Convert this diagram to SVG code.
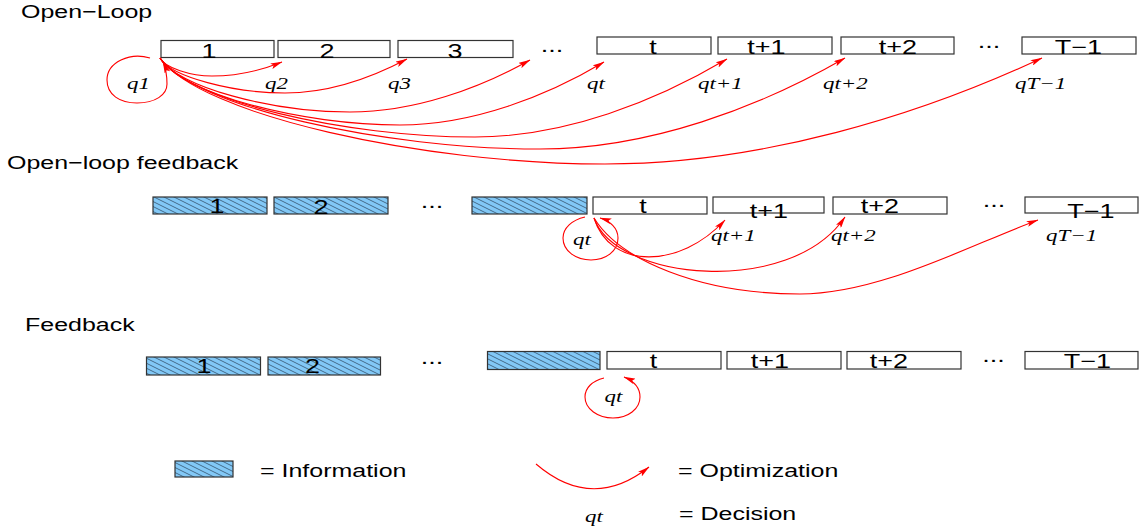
<svg xmlns="http://www.w3.org/2000/svg" width="1146" height="532" viewBox="0 0 1146 532">
<defs>
<style>
.box{fill:#fff;stroke:#333;stroke-width:1.2}
.info{fill:url(#hatch);stroke:#333;stroke-width:1.2}
.lbl{font-family:"Liberation Sans",Arial,sans-serif;font-size:20px;text-anchor:middle;fill:#000}
.ttl{font-family:"Liberation Sans",Arial,sans-serif;font-size:18.5px;fill:#000}
.q{font-family:"Liberation Serif","Times New Roman",serif;font-style:italic;font-size:17px;fill:#000}
.arc{fill:none;stroke:#f00;stroke-width:1.1;marker-end:url(#ah)}
.loop{fill:none;stroke:#f00;stroke-width:1.1;marker-end:url(#ah)}
</style>
<pattern id="hatch" patternUnits="userSpaceOnUse" width="10" height="5">
<rect width="10" height="5" fill="#82c8f6"/>
<path d="M-1 -0.5 L11 5.5 M-1 4.5 L1 5.5 M9 -0.5 L11 0.5" stroke="#2a4058" stroke-width="0.7"/>
</pattern>
<marker id="ah" viewBox="0 0 12 6" refX="11.5" refY="3" markerWidth="12" markerHeight="6" markerUnits="userSpaceOnUse" orient="auto">
<path d="M0 0 L12 3 L0 6 L2.5 3 Z" fill="#f00"/>
</marker>
</defs>
<rect width="1146" height="532" fill="#fff"/>

<!-- Titles -->
<g id="titles">
<text class="ttl" transform="translate(21 18) scale(1.35 1)">Open−Loop</text>
<text class="ttl" transform="translate(7 168.5) scale(1.35 1)">Open−loop feedback</text>
<text class="ttl" transform="translate(25 331) scale(1.35 1)">Feedback</text>
</g>

<!-- Row 1: Open-Loop -->
<g id="ol-1"><rect class="box" x="161" y="40.5" width="113" height="17"/><text class="lbl" transform="translate(209 57.5) scale(1.35 1)">1</text></g>
<g id="ol-2"><rect class="box" x="278" y="40.5" width="112" height="17"/><text class="lbl" transform="translate(327 57.5) scale(1.35 1)">2</text></g>
<g id="ol-3"><rect class="box" x="398" y="40.5" width="115" height="17"/><text class="lbl" transform="translate(455 57.5) scale(1.35 1)">3</text></g>
<g id="ol-dots1"><text class="lbl" transform="translate(552 52) scale(1.35 1)">...</text></g>
<g id="ol-t"><rect class="box" x="597" y="37" width="114" height="17"/><text class="lbl" transform="translate(653 54) scale(1.35 1)">t</text></g>
<g id="ol-t1"><rect class="box" x="718" y="37" width="114" height="17"/><text class="lbl" transform="translate(766.5 54) scale(1.35 1)">t+1</text></g>
<g id="ol-t2"><rect class="box" x="841" y="37" width="113" height="17"/><text class="lbl" transform="translate(898 54) scale(1.35 1)">t+2</text></g>
<g id="ol-dots2"><text class="lbl" transform="translate(989 48) scale(1.35 1)">...</text></g>
<g id="ol-T1"><rect class="box" x="1022" y="37" width="114" height="17"/><text class="lbl" transform="translate(1078.5 54) scale(1.35 1)">T−1</text></g>
<g id="ol-q">
<text class="q" transform="translate(127 89) scale(1.35 1)">q1</text>
<text class="q" transform="translate(265 89) scale(1.35 1)">q2</text>
<text class="q" transform="translate(388 89) scale(1.35 1)">q3</text>
<text class="q" transform="translate(587 89) scale(1.35 1)">qt</text>
<text class="q" transform="translate(698 89) scale(1.35 1)">qt+1</text>
<text class="q" transform="translate(823 89) scale(1.35 1)">qt+2</text>
<text class="q" transform="translate(1015 89) scale(1.35 1)">qT−1</text>
</g>

<!-- Row 2: Open-loop feedback -->
<g id="olf-1"><rect class="info" x="153" y="197" width="114" height="17"/><text class="lbl" transform="translate(217 213) scale(1.35 1)">1</text></g>
<g id="olf-2"><rect class="info" x="274" y="197" width="114" height="17"/><text class="lbl" transform="translate(321 214) scale(1.35 1)">2</text></g>
<g id="olf-dots1"><text class="lbl" transform="translate(432 208) scale(1.35 1)">...</text></g>
<g id="olf-3"><rect class="info" x="472" y="197" width="115" height="17"/></g>
<g id="olf-t"><rect class="box" x="593" y="197" width="114" height="17"/><text class="lbl" transform="translate(643 213) scale(1.35 1)">t</text></g>
<g id="olf-t1"><rect class="box" x="713" y="197" width="111" height="16"/><text class="lbl" transform="translate(769 217.5) scale(1.35 1)">t+1</text></g>
<g id="olf-t2"><rect class="box" x="833" y="197" width="114" height="17"/><text class="lbl" transform="translate(880 213) scale(1.35 1)">t+2</text></g>
<g id="olf-dots2"><text class="lbl" transform="translate(994 207) scale(1.35 1)">...</text></g>
<g id="olf-T1"><rect class="box" x="1025" y="197" width="113" height="16"/><text class="lbl" transform="translate(1091 218) scale(1.35 1)">T−1</text></g>
<g id="olf-q">
<text class="q" transform="translate(573 245) scale(1.35 1)">qt</text>
<text class="q" transform="translate(711 241) scale(1.35 1)">qt+1</text>
<text class="q" transform="translate(831 241) scale(1.35 1)">qt+2</text>
<text class="q" transform="translate(1046 241) scale(1.35 1)">qT−1</text>
</g>

<!-- Row 3: Feedback -->
<g id="fb-1"><rect class="info" x="146.5" y="357" width="114" height="18"/><text class="lbl" transform="translate(204 373) scale(1.35 1)">1</text></g>
<g id="fb-2"><rect class="info" x="268" y="357" width="112.5" height="18"/><text class="lbl" transform="translate(312.5 373) scale(1.35 1)">2</text></g>
<g id="fb-dots1"><text class="lbl" transform="translate(432 364) scale(1.35 1)">...</text></g>
<g id="fb-3"><rect class="info" x="487.5" y="351.5" width="112.5" height="18"/></g>
<g id="fb-t"><rect class="box" x="607" y="351.5" width="114" height="17.5"/><text class="lbl" transform="translate(653.5 368) scale(1.35 1)">t</text></g>
<g id="fb-t1"><rect class="box" x="727" y="351.5" width="114" height="17.5"/><text class="lbl" transform="translate(770 368) scale(1.35 1)">t+1</text></g>
<g id="fb-t2"><rect class="box" x="847" y="351.5" width="114" height="17.5"/><text class="lbl" transform="translate(889 368) scale(1.35 1)">t+2</text></g>
<g id="fb-dots2"><text class="lbl" transform="translate(993.5 362) scale(1.35 1)">...</text></g>
<g id="fb-T1"><rect class="box" x="1025" y="351.5" width="113" height="17.5"/><text class="lbl" transform="translate(1087.5 368) scale(1.35 1)">T−1</text></g>
<g id="fb-q"><text class="q" transform="translate(604.5 402) scale(1.35 1)">qt</text></g>

<!-- Connectors -->
<g id="connectors">
<path class="loop" d="M150 58 C130 52 107 62 107 80 C107 95 120 103 137 103 C155 103 167 95 167 84 C167 75 166 69 163 62"/>
<path class="arc" d="M160 58 C165 68 191 76 212 76 C237 76 262 70 282 62"/>
<path class="arc" d="M160 58 C171 77 234 93 285 93 C329 93 373 77 407 59"/>
<path class="arc" d="M160 58 C177 87 272 112 350 112 C415 112 480 88 530 60"/>
<path class="arc" d="M160 58 C182 94 302 125 400 125 C473 125 547 96 604 62"/>
<path class="arc" d="M160 58 C188 101 346 137 475 137 C566 137 656 101 727 59"/>
<path class="arc" d="M160 58 C194 107 384 149 540 149 C650 149 760 107 845 58"/>
<path class="arc" d="M160 58 C200 115 423 164 605 164 C762 164 920 115 1042 58"/>

<path class="loop" d="M585 217 C572 220 563 228 563 238 C563 251 576 260 591 260 C606 260 618 251 618 238 C618 228 610 221 600 218"/>
<path class="arc" d="M594 218 C610 270 680 269 725 220"/>
<path class="arc" d="M594 218 C615 280 790 298 845 217"/>
<path class="arc" d="M594 218 C620 260 700 294 800 294 C880 294 970 245 1038 220"/>

<path class="loop" d="M604 378 C592 381 585 388 585 397 C585 409 598 418 613 418 C628 418 640 409 640 397 C640 389 636 382 624 377"/>
</g>

<!-- Legend -->
<g id="legend-info"><rect class="info" x="175" y="461" width="58" height="16"/><text class="ttl" transform="translate(260 477) scale(1.35 1)">= Information</text></g>
<g id="legend-opt"><path class="arc" d="M536 464 Q592 512 649 467"/><text class="ttl" transform="translate(678 477) scale(1.35 1)">= Optimization</text></g>
<g id="legend-dec"><text class="q" transform="translate(585 522) scale(1.35 1)">qt</text><text class="ttl" transform="translate(679 520) scale(1.35 1)">= Decision</text></g>
</svg>
